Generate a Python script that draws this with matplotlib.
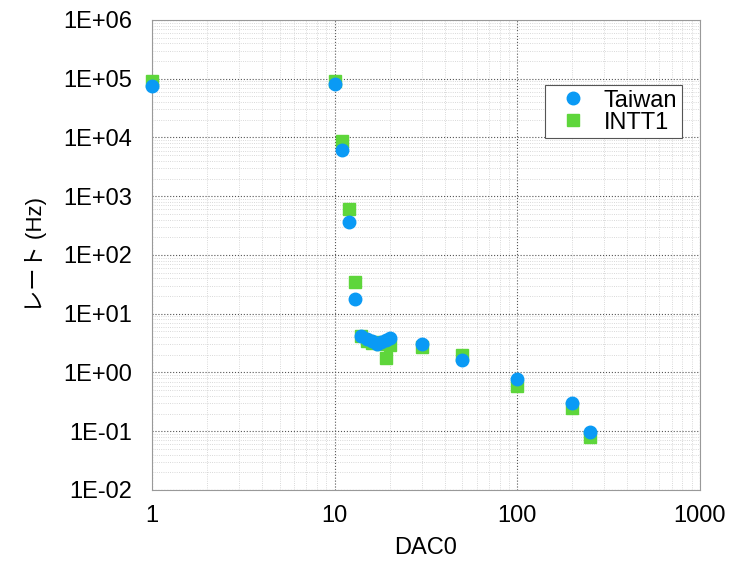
import math
import matplotlib.pyplot as plt
from matplotlib.ticker import FuncFormatter, LogLocator

plt.rcParams['font.family'] = ['Liberation Sans', 'Noto Sans CJK JP', 'DejaVu Sans']

dac_taiwan = [1, 10, 11, 12, 13, 14, 15, 16, 17, 18, 19, 20, 30, 50, 100, 200, 250]
rate_taiwan = [7.5e4, 8.1e4, 6.1e3, 365, 17.8, 4.2, 3.7, 3.5, 3.05, 3.3, 3.6, 3.9,
               3.1, 1.63, 0.78, 0.30, 0.098]

dac_intt1 = [1, 10, 11, 12, 13, 14, 15, 16, 17, 18, 19, 20, 30, 50, 100, 200, 250]
rate_intt1 = [9.1e4, 9.1e4, 8.7e3, 607, 35, 4.2, 3.5, 3.2, 3.3, 3.05, 1.77, 2.9,
              2.7, 2.0, 0.59, 0.25, 0.079]

fig = plt.figure(figsize=(7.38, 5.63), dpi=100)
ax = fig.add_axes([0.206, 0.1297, 0.7425, 0.8348])

ax.plot(dac_intt1, rate_intt1, 's', color='#5ed63b', markersize=9, label='INTT1',
        zorder=3, clip_on=False)
ax.plot(dac_taiwan, rate_taiwan, 'o', color='#0a9af5', markersize=9, label='Taiwan',
        zorder=4, clip_on=False)

ax.set_xscale('log')
ax.set_yscale('log')
ax.set_xlim(1, 1000)
ax.set_ylim(1e-2, 1e6)

ax.yaxis.set_major_locator(LogLocator(base=10, numticks=20))
ax.yaxis.set_minor_locator(LogLocator(base=10, subs=range(2, 10), numticks=20))
ax.yaxis.set_major_formatter(FuncFormatter(lambda v, p: '1E%+03d' % round(math.log10(v))))
ax.xaxis.set_major_formatter(FuncFormatter(lambda v, p: '%d' % v))

ax.grid(which='major', color='#555555', linestyle=':', linewidth=0.8)
ax.grid(which='minor', color='#cccccc', linestyle=':', linewidth=0.6)
ax.set_axisbelow(True)
ax.tick_params(which='both', length=0, labelsize=17)
ax.tick_params(axis='x', pad=11)
ax.tick_params(axis='y', pad=14)
for s in ax.spines.values():
    s.set_color('#999999')

ax.set_xlabel('DAC0', fontsize=17, labelpad=7)
ax.set_ylabel('レート (Hz)', fontsize=16, labelpad=12)

h, l = ax.get_legend_handles_labels()
leg = ax.legend(h[::-1], l[::-1], loc='upper right', bbox_to_anchor=(0.967, 0.862),
                fontsize=17, fancybox=False, edgecolor='#555555', framealpha=1,
                handletextpad=0.3, borderpad=0.2, labelspacing=0.0,
                handlelength=2.0, borderaxespad=0)
leg.get_frame().set_linewidth(0.8)

fig.savefig('out.png', dpi=100)
